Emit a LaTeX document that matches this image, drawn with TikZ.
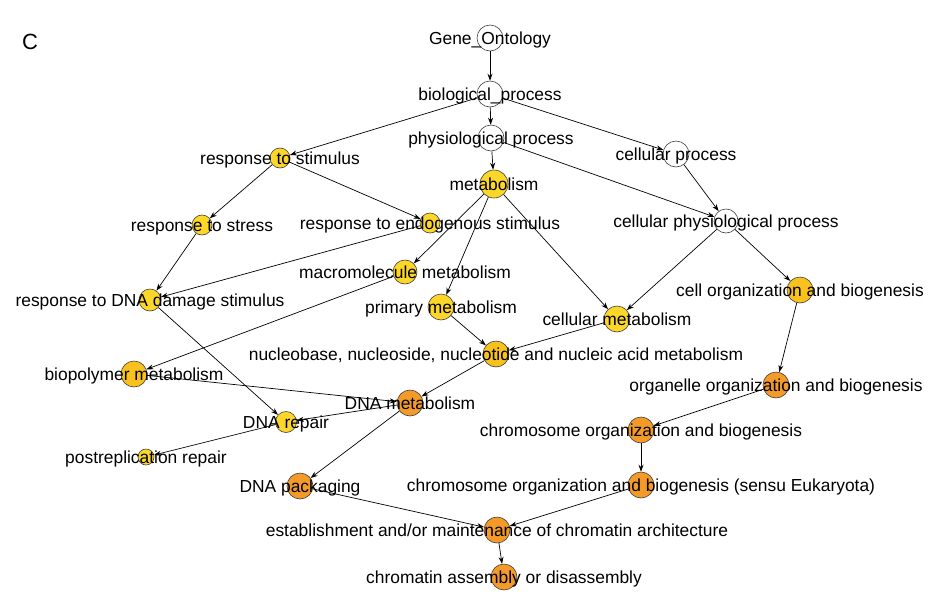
\documentclass[tikz,border=0pt]{standalone}
\usepackage{fontspec}
\setmainfont{Liberation Sans}
\usetikzlibrary{arrows.meta}

\definecolor{goGelb}{HTML}{FDD62A}
\definecolor{goGold}{HTML}{F8C11D}
\definecolor{goOrange}{HTML}{F39A28}

\tikzset{
  term/.style={circle, draw=black!75, line width=0.6pt, inner sep=0pt, minimum size=#1},
  term/.default=26pt,
  termtext/.style={font=\fontsize{17.4}{20}\selectfont, inner sep=0pt, text height=12.5pt, text depth=0pt},
  kante/.style={-{Stealth[length=7pt,width=5pt]}, line width=0.7pt},
}

\begin{document}
\begin{tikzpicture}[x=1pt,y=-1pt]
\useasboundingbox (0,0) rectangle (929,600);

\node[font=\fontsize{22}{24}\selectfont, inner sep=0pt] (panel) at (30,42) {C};

%EBENE NR. 0 (von oben)
\node[term, fill=white] (go) at (490,38) {};
\node[term, fill=white] (bio) at (490,94) {};

%EBENE NR. 1 (von oben)
\node[term, fill=white] (phys) at (491,138) {};
\node[term, fill=white] (cellp) at (676,154) {};
\node[term=20pt, fill=goGelb] (stim) at (280,158) {};
\node[term=28pt, fill=goGelb] (metab) at (494,184) {};

%EBENE NR. 2 (von oben)
\node[term=20pt, fill=goGelb] (stress) at (202,225) {};
\node[term=20pt, fill=goGelb] (endo) at (430,223) {};
\node[term=24pt, fill=white] (cphys) at (726,221) {};
\node[term=24pt, fill=goGelb] (macro) at (405,272) {};
\node[term, fill=goGold] (cellorg) at (800,290) {};

%EBENE NR. 3 (von oben)
\node[term=22pt, fill=goGelb] (dnadam) at (150,300) {};
\node[term, fill=goGelb] (primary) at (441,307) {};
\node[term, fill=goGelb] (cellmet) at (617,319) {};
\node[term, fill=goGold] (nucleo) at (496,354) {};
\node[term, fill=goGold] (biopol) at (134,374) {};
\node[term, fill=goOrange] (organelle) at (776,385) {};

%EBENE NR. 4 (von oben)
\node[term, fill=goOrange] (dnamet) at (410,403) {};
\node[term=21pt, fill=goGelb] (dnarep) at (286,422) {};
\node[term, fill=goOrange] (chromo) at (641,430) {};
\node[term=16pt, fill=goGelb] (postrep) at (146,457) {};

%EBENE NR. 5 (von oben)
\node[term, fill=goOrange] (packaging) at (300,486) {};
\node[term, fill=goOrange] (sensu) at (641,485) {};
\node[term, fill=goOrange] (establ) at (497,530) {};
\node[term, fill=goOrange] (chromatin) at (504,577) {};

%KANTEN
\draw[kante] (go) -- (bio);
\draw[kante] (bio) -- (phys);
\draw[kante] (bio) -- (stim);
\draw[kante] (bio) -- (cellp);
\draw[kante] (phys) -- (metab);
\draw[kante] (phys) -- (cphys);
\draw[kante] (cellp) -- (cphys);
\draw[kante] (stim) -- (stress);
\draw[kante] (stim) -- (endo);
\draw[kante] (stress) -- (dnadam);
\draw[kante] (endo) -- (dnadam);
\draw[kante] (dnadam) -- (dnarep);
\draw[kante] (metab) -- (macro);
\draw[kante] (metab) -- (primary);
\draw[kante] (metab) -- (cellmet);
\draw[kante] (macro) -- (biopol);
\draw[kante] (primary) -- (nucleo);
\draw[kante] (cellmet) -- (nucleo);
\draw[kante] (cphys) -- (cellmet);
\draw[kante] (cphys) -- (cellorg);
\draw[kante] (cellorg) -- (organelle);
\draw[kante] (organelle) -- (chromo);
\draw[kante] (chromo) -- (sensu);
\draw[kante] (sensu) -- (establ);
\draw[kante] (nucleo) -- (dnamet);
\draw[kante] (biopol) -- (dnamet);
\draw[kante] (dnamet) -- (dnarep);
\draw[kante] (dnamet) -- (packaging);
\draw[kante] (dnarep) -- (postrep);
\draw[kante] (packaging) -- (establ);
\draw[kante] (establ) -- (chromatin);

%BESCHRIFTUNG
\node[termtext] (go-t) at (go) {Gene\_Ontology};
\node[termtext] (bio-t) at (bio) {biological\_process};
\node[termtext] (phys-t) at (phys) {physiological process};
\node[termtext] (cellp-t) at (cellp) {cellular process};
\node[termtext] (stim-t) at (stim) {response to stimulus};
\node[termtext] (metab-t) at (metab) {metabolism};
\node[termtext] (stress-t) at (stress) {response to stress};
\node[termtext] (endo-t) at (endo) {response to endogenous stimulus};
\node[termtext] (cphys-t) at (cphys) {cellular physiological process};
\node[termtext] (macro-t) at (macro) {macromolecule metabolism};
\node[termtext] (cellorg-t) at (cellorg) {cell organization and biogenesis};
\node[termtext] (dnadam-t) at (dnadam) {response to DNA damage stimulus};
\node[termtext] (primary-t) at (primary) {primary metabolism};
\node[termtext] (cellmet-t) at (cellmet) {cellular metabolism};
\node[termtext] (nucleo-t) at (nucleo) {nucleobase, nucleoside, nucleotide and nucleic acid metabolism};
\node[termtext] (biopol-t) at (biopol) {biopolymer metabolism};
\node[termtext] (organelle-t) at (organelle) {organelle organization and biogenesis};
\node[termtext] (dnamet-t) at (dnamet) {DNA metabolism};
\node[termtext] (dnarep-t) at (dnarep) {DNA repair};
\node[termtext] (chromo-t) at (chromo) {chromosome organization and biogenesis};
\node[termtext] (postrep-t) at (postrep) {postreplication repair};
\node[termtext] (packaging-t) at (packaging) {DNA packaging};
\node[termtext] (sensu-t) at (sensu) {chromosome organization and biogenesis (sensu Eukaryota)};
\node[termtext] (establ-t) at (establ) {establishment and/or maintenance of chromatin architecture};
\node[termtext] (chromatin-t) at (chromatin) {chromatin assembly or disassembly};

\end{tikzpicture}
\end{document}
